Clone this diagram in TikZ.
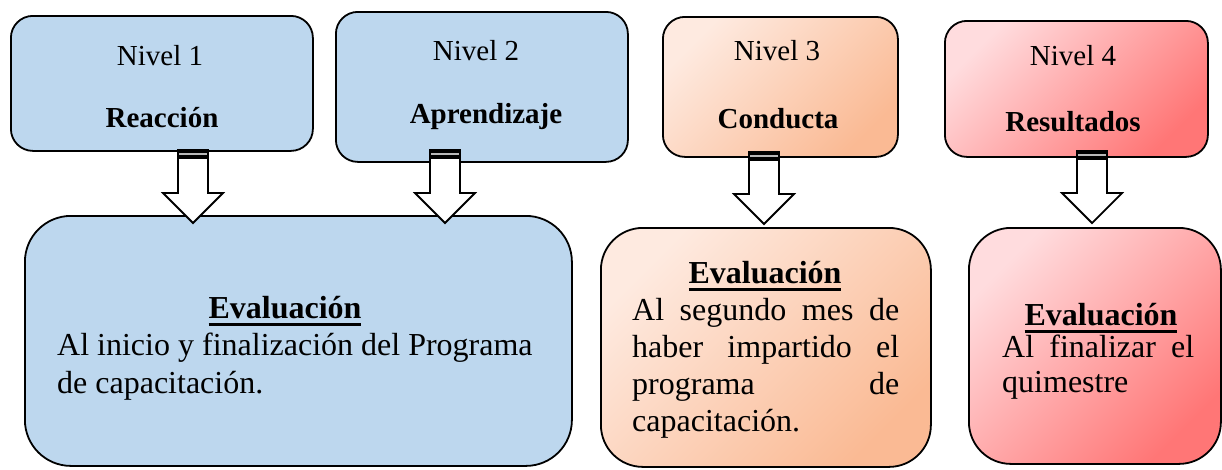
\documentclass[tikz,border=0pt]{standalone}
\usepackage{fontspec}
\setmainfont{Liberation Serif}
\usetikzlibrary{calc}
\definecolor{nblue}{RGB}{189,215,238}
\definecolor{peachA}{RGB}{254,234,224}
\definecolor{peachB}{RGB}{250,186,148}
\definecolor{pinkA}{RGB}{255,220,222}
\definecolor{pinkB}{RGB}{255,118,118}
\newcommand\evalul[1]{\setbox0=\hbox{#1}\rlap{\rule[-8pt]{\wd0}{2.6pt}}\box0}
\newcommand\blockarr[2]{%
  \filldraw[fill=white, draw=black, line width=1.8pt, line join=miter]
    ($(#1)+(-15,0)$) -- ($(#2)+(-15,-30)$) -- ($(#2)+(-30,-30)$) -- (#2)
    -- ($(#2)+(30,-30)$) -- ($(#2)+(15,-30)$) -- ($(#1)+(15,0)$) -- cycle;
  \fill[black] ($(#1)+(-16,-1)$) rectangle ($(#1)+(16,9)$);
  \draw[gray!55, line width=1.3pt] ($(#1)+(-14,4)$) -- ($(#1)+(14,4)$);
}
\begin{document}
\begin{tikzpicture}[x=1pt, y=-1pt,
  box/.style={draw=black, line width=1.8pt, rounded corners=22pt, anchor=north west, inner sep=0pt},
  bigbox/.style={box, rounded corners=46pt},
  bluefill/.style={fill=nblue},
  peachfill/.style={top color=peachA, bottom color=peachB, shading angle=45},
  pinkfill/.style={top color=pinkA, bottom color=pinkB, shading angle=45},
  hdr/.style={font=\fontsize{29}{34}\selectfont, anchor=base, inner sep=0pt},
  hdrb/.style={font=\fontsize{29}{34}\selectfont\bfseries, anchor=base, inner sep=0pt},
  evalt/.style={font=\fontsize{32}{37}\selectfont\bfseries, anchor=base, inner sep=0pt},
  body/.style={font=\fontsize{32}{37}\selectfont, anchor=base west, inner sep=0pt}]
\useasboundingbox (0,0) rectangle (1222,469);
% top boxes
\node[box, bluefill, minimum width=302pt, minimum height=135pt] (b1) at (10,15) {};
\node[box, bluefill, minimum width=292pt, minimum height=150pt] (b2) at (335,11) {};
\node[box, peachfill, minimum width=235pt, minimum height=140pt] (b3) at (662,16) {};
\node[box, pinkfill, minimum width=263pt, minimum height=136pt] (b4) at (944,20) {};
% bottom boxes
\node[bigbox, bluefill, minimum width=547pt, minimum height=250pt] (e1) at (24,215) {};
\node[bigbox, peachfill, rounded corners=42pt, minimum width=330pt, minimum height=239pt] (e3) at (600,227) {};
\node[bigbox, pinkfill, rounded corners=42pt, minimum width=252pt, minimum height=236pt] (e4) at (968,227) {};
% texts top
\node[hdr] (n1) at (160,65) {Nivel 1};
\node[hdrb] (r1) at (162,127) {Reacción};
\node[hdr] (n2) at (476,60) {Nivel 2};
\node[hdrb] (r2) at (486,123) {Aprendizaje};
\node[hdr] (n3) at (777,60) {Nivel 3};
\node[hdrb] (r3) at (778,128) {Conducta};
\node[hdr] (n4) at (1073,65) {Nivel 4};
\node[hdrb] (r4) at (1073,131) {Resultados};
% texts bottom
\node[evalt] (v1) at (285,318) {\evalul{Evaluación}};
\node[body] (t1a) at (57,355) {Al inicio y finalización del Programa};
\node[body] (t1b) at (57,393) {de capacitación.};
\node[evalt] (v3) at (765,283) {\evalul{Evaluación}};
\node[body] (t3a) at (632,320) {\makebox[267pt][s]{Al segundo mes de}};
\node[body] (t3b) at (632,357) {\makebox[267pt][s]{haber impartido el}};
\node[body] (t3c) at (632,394) {\makebox[267pt][s]{programa de}};
\node[body] (t3d) at (632,431) {capacitación.};
\node[evalt] (v4) at (1101,325) {\evalul{Evaluación}};
\node[body] (t4a) at (1002,357) {\makebox[192pt][s]{Al finalizar el}};
\node[body] (t4b) at (1002,392) {quimestre};
% arrows
\coordinate (a1s) at (193,150); \coordinate (a1t) at (193,223);
\coordinate (a2s) at (445,150); \coordinate (a2t) at (445,223);
\coordinate (a3s) at (764,152); \coordinate (a3t) at (764,224);
\coordinate (a4s) at (1092,151); \coordinate (a4t) at (1092,223);
\blockarr{a1s}{a1t}
\blockarr{a2s}{a2t}
\blockarr{a3s}{a3t}
\blockarr{a4s}{a4t}
\end{tikzpicture}
\end{document}
